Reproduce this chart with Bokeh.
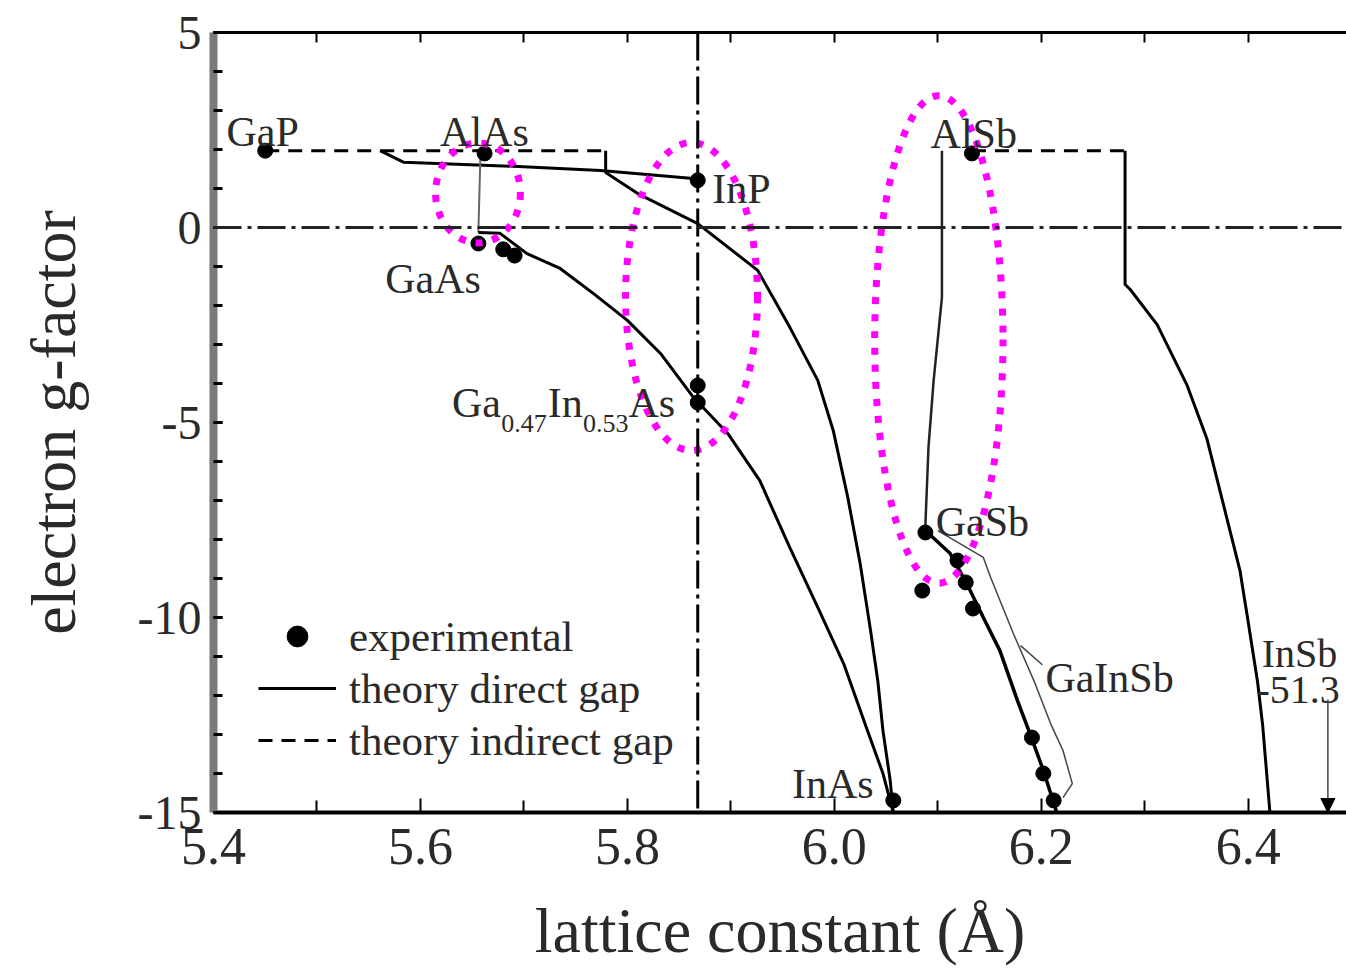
from bokeh.plotting import figure
from bokeh.models import (Range1d, LinearAxis, FixedTicker, Span, Arrow, NormalHead,
                          Legend, LegendItem, CustomLabelingPolicy)
from bokeh.embed import file_html
from bokeh.resources import INLINE
from bokeh.core.properties import value

FONT = "Liberation Serif"
TXT = "#2a2a2a"

# ---------------- data ----------------
# experimental g-factors
exp_x = [5.450, 5.662, 5.656, 5.680, 5.691, 5.868, 5.868, 5.868, 6.133, 6.088,
         6.085, 6.119, 6.127, 6.134, 6.191, 6.202, 6.212, 6.057]
exp_y = [1.97, 1.90, -0.41, -0.56, -0.72, 1.21, -4.05, -4.49, 1.90, -7.82,
         -9.31, -8.54, -9.10, -9.77, -13.08, -14.00, -14.69, -14.69]

# theory, indirect gap (dashed)
ind1_x = [5.450, 5.779]
ind1_y = [1.97, 1.97]
ind2_x = [6.133, 6.281]
ind2_y = [1.97, 1.97]

# theory, direct gap (solid)
gainp_x = [5.561, 5.584, 5.680, 5.774, 5.861, 5.868]
gainp_y = [1.97, 1.67, 1.58, 1.46, 1.26, 1.21]

algaas_x = [5.658, 5.656]
algaas_y = [1.90, -0.13]

gainas_x = [5.656, 5.677, 5.703, 5.735, 5.767, 5.800, 5.832, 5.864, 5.897, 5.928,
            5.957, 5.984, 6.009, 6.032, 6.047, 6.057]
gainas_y = [-0.13, -0.15, -0.67, -1.05, -1.69, -2.38, -3.23, -4.36, -5.28, -6.49,
            -8.21, -9.74, -11.18, -12.90, -14.00, -15.00]

alinas_x = [5.779, 5.779, 5.810, 5.868, 5.926, 5.957, 5.984, 5.999, 6.013, 6.025,
            6.035, 6.042, 6.047, 6.054, 6.057]
alinas_y = [1.97, 1.41, 0.87, 0.10, -1.10, -2.56, -3.92, -5.21, -6.92, -8.62,
            -10.33, -11.62, -12.90, -14.18, -15.00]

algasb_x = [6.104, 6.104, 6.096, 6.091, 6.088]
algasb_y = [1.97, -1.79, -3.92, -5.64, -7.64]

gainsb_x = [6.088, 6.112, 6.128, 6.144, 6.160, 6.177, 6.189, 6.202, 6.215]
gainsb_y = [-7.77, -8.36, -9.13, -10.00, -10.85, -12.13, -12.97, -13.92, -15.00]

gainsb2_x = [6.100, 6.144, 6.151, 6.173, 6.194, 6.209, 6.221, 6.230, 6.221]
gainsb2_y = [-7.77, -8.46, -8.97, -10.41, -11.69, -12.72, -13.41, -14.26, -14.62]

alinsb_x = [6.281, 6.281, 6.286, 6.312, 6.341, 6.360, 6.376, 6.392, 6.399, 6.409,
            6.414, 6.421]
alinsb_y = [1.97, -1.46, -1.59, -2.49, -4.05, -5.41, -7.10, -8.79, -9.95, -11.64,
            -12.77, -15.00]

# InP lattice constant (vertical reference), highlighted regions
inp_a = 5.868
ell_x = [5.6556, 5.862, 6.101]
ell_y = [0.885, -1.77, -2.87]
ell_w = [0.082, 0.1275, 0.124]
ell_h = [2.56, 7.90, 12.5]

# material labels
lab_text = ["GaP", "AlAs", "GaAs", "InP", "AlSb", "GaSb", "GaInSb", "InAs"]
lab_x = [5.4126, 5.619, 5.566, 5.882, 6.093, 6.098, 6.204, 5.959]
lab_y = [2.44, 2.44, -1.31, 1.00, 2.41, -7.56, -11.56, -14.26]

insb_text = ["InSb", "-51.3"]
insb_x = [6.413, 6.408]
insb_y = [-10.92, -11.87]

# Ga0.47In0.53As label pieces
gi_text = ["Ga", "0.47", "In", "0.53", "As"]
gi_x = [5.6305, 5.6780, 5.7230, 5.7570, 5.8010]
gi_y = [-4.49, -5.03, -4.49, -5.03, -4.49]
gi_size = ["42px", "26px", "42px", "26px", "42px"]

x_ticks = [5.4, 5.6, 5.8, 6.0, 6.2, 6.4]
x_minor = [5.5, 5.7, 5.9, 6.1, 6.3]
y_ticks = [-15, -10, -5, 0, 5]
y_minor = list(range(-15, 6))

# ---------------- figure ----------------
p = figure(width=1346, height=969, output_backend="svg", toolbar_location=None,
           x_range=Range1d(5.4, 6.495), y_range=Range1d(-15, 5),
           min_border_left=213, min_border_right=0, min_border_top=32,
           min_border_bottom=157, background_fill_color="white",
           border_fill_color="white")
p.outline_line_color = None
p.xgrid.visible = False
p.ygrid.visible = False

# reference lines
p.add_layout(Span(location=inp_a, dimension="height", line_color="black",
                  line_width=3, line_dash="28 6 4 6"))
p.add_layout(Span(location=0, dimension="width", line_color="#222222",
                  line_width=3, line_dash="28 6 4 6"))

# theory curves
dash1 = p.line(ind1_x, ind1_y, line_color="black", line_width=3, line_dash="14 9")
p.line(ind2_x, ind2_y, line_color="black", line_width=3, line_dash="14 9")
p.line(gainp_x, gainp_y, line_color="black", line_width=3)
p.line(algaas_x, algaas_y, line_color="#666666", line_width=2)
solid = p.line(gainas_x, gainas_y, line_color="black", line_width=3)
p.line(alinas_x, alinas_y, line_color="black", line_width=3)
p.line(algasb_x, algasb_y, line_color="#222222", line_width=2.5)
p.line(gainsb_x, gainsb_y, line_color="black", line_width=3.5)
p.line(gainsb2_x, gainsb2_y, line_color="#444444", line_width=1.5)
p.line(alinsb_x, alinsb_y, line_color="black", line_width=3)

# experimental points
dots = p.scatter(exp_x, exp_y, marker="circle", size=15, fill_color="black",
                 line_color="black")

# highlighted ellipses
p.ellipse(x=ell_x, y=ell_y, width=ell_w, height=ell_h, fill_alpha=0,
          line_color="#ff00ff", line_width=7, line_dash="7 10")

# GaInSb leader and InSb arrow
p.line([6.180, 6.201], [-10.72, -11.21], line_color="#444444", line_width=1.5)
p.add_layout(Arrow(x_start=6.477, y_start=-12.1, x_end=6.477, y_end=-15.0,
                   line_color="#444444", line_width=1.5,
                   end=NormalHead(size=14, fill_color="black", line_color="black")))

# labels
p.text(x=lab_x, y=lab_y, text=lab_text, text_font=value(FONT),
       text_font_size=value("42px"), text_color=TXT, text_baseline="alphabetic",
       text_align="left")
p.text(x=insb_x, y=insb_y, text=insb_text, text_font=value(FONT),
       text_font_size=value("40px"), text_color=TXT, text_baseline="alphabetic",
       text_align="left")
for t, xx, yy, s in zip(gi_text, gi_x, gi_y, gi_size):
    p.text(x=[xx], y=[yy], text=[t], text_font=value(FONT),
           text_font_size=value(s), text_color=TXT, text_baseline="alphabetic",
           text_align="left")

# legend
legend = Legend(items=[LegendItem(label="experimental", renderers=[dots]),
                       LegendItem(label="theory direct gap", renderers=[solid]),
                       LegendItem(label="theory indirect gap", renderers=[dash1])],
                location=(45, 46), padding=0, margin=0, spacing=0,
                glyph_width=78, glyph_height=52, label_height=52,
                label_standoff=13, border_line_color=None,
                background_fill_alpha=0, label_text_font=FONT,
                label_text_font_size="43px", label_text_color=TXT)
p.add_layout(legend)

# axes
xa = p.xaxis[0]
xa.ticker = FixedTicker(ticks=x_ticks, minor_ticks=x_minor)
xa.major_label_overrides = {v: f"{v:.1f}" for v in x_ticks}
xa.axis_line_color = "black"
xa.axis_line_width = 4
xa.major_tick_in = 14
xa.major_tick_out = 0
xa.minor_tick_in = 12
xa.minor_tick_out = 0
xa.major_tick_line_width = 2
xa.minor_tick_line_width = 2
xa.major_label_text_font = FONT
xa.major_label_text_font_size = "52px"
xa.major_label_text_color = TXT
xa.major_label_standoff = 16
xa.axis_label = "lattice constant (Å)"
xa.axis_label_text_font = FONT
xa.axis_label_text_font_size = "64px"
xa.axis_label_text_font_style = "normal"
xa.axis_label_text_color = TXT
xa.axis_label_standoff = 28

ya = p.yaxis[0]
ya.ticker = FixedTicker(ticks=y_ticks, minor_ticks=y_minor)
ya.major_label_overrides = {v: str(v) for v in y_ticks}
ya.axis_line_color = "#7a7a7a"
ya.axis_line_width = 8
ya.major_tick_in = 9
ya.major_tick_out = 0
ya.minor_tick_in = 9
ya.minor_tick_out = 0
ya.major_tick_line_width = 3
ya.minor_tick_line_width = 3
ya.major_label_text_font = FONT
ya.major_label_text_font_size = "48px"
ya.major_label_text_color = TXT
ya.major_label_standoff = 12
ya.axis_label = "electron g-factor"
ya.axis_label_text_font = FONT
ya.axis_label_text_font_size = "64px"
ya.axis_label_text_font_style = "normal"
ya.axis_label_text_color = TXT
ya.axis_label_standoff = 46

hide_all = CustomLabelingPolicy(code="""
for (const i of Array.from(indices)) { indices.unset(i) }
return indices
""")
top = LinearAxis(ticker=FixedTicker(ticks=x_ticks, minor_ticks=x_minor),
                 major_label_policy=hide_all, major_label_standoff=0,
                 axis_line_color="black", axis_line_width=3,
                 major_tick_in=10, major_tick_out=0, minor_tick_in=10,
                 minor_tick_out=0, major_tick_line_width=2, minor_tick_line_width=2)
p.add_layout(top, "above")

open("out.html", "w").write(file_html(p, INLINE))
